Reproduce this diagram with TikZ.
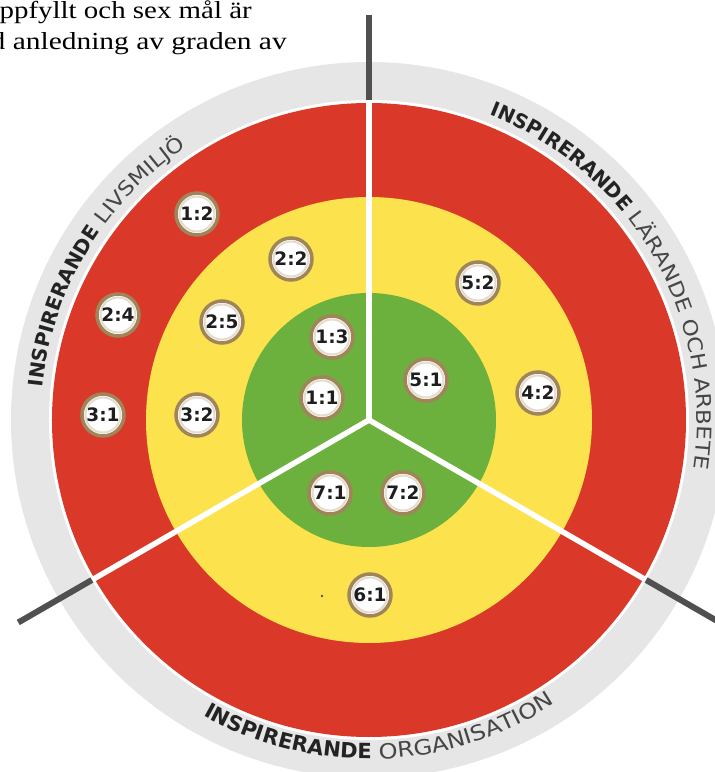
\documentclass[tikz,border=0pt]{standalone}
\usepackage{graphicx}
\usepackage{fontspec}
\usetikzlibrary{decorations.text}
\newfontfamily\dvsans{DejaVu Sans}
\newfontfamily\dvwide[FakeStretch=1.15]{DejaVu Sans}
\newfontfamily\bodyserif{Liberation Serif}
\definecolor{ringgray}{RGB}{230,230,230}
\definecolor{ringred}{RGB}{218,56,40}
\definecolor{ringyellow}{RGB}{252,227,77}
\definecolor{ringgreen}{RGB}{108,176,62}
\definecolor{darkline}{RGB}{80,80,80}
\definecolor{mkbrown}{RGB}{160,133,90}
\definecolor{mkinner}{RGB}{228,220,205}
\definecolor{mktext}{RGB}{30,30,30}
\definecolor{lbltxt}{RGB}{35,35,35}
\definecolor{lbltxtl}{RGB}{70,70,70}
\newcommand\lblbold{\fontsize{20}{20}\selectfont\dvsans\bfseries\color{lbltxt}}
\newcommand\lbllight{\fontsize{20}{20}\selectfont\dvwide\color{lbltxtl}}
\newcommand\lblboldb{\fontsize{21}{21}\selectfont\dvsans\bfseries\color{lbltxt}}
\newcommand\lbllightb{\fontsize{21}{21}\selectfont\dvwide\color{lbltxtl}}
\tikzset{
  mk/.style={circle, fill=white, draw=mkbrown, line width=3.5pt, minimum size=42pt, inner sep=0pt,
    font=\fontsize{18.5}{18.5}\selectfont\dvsans\bfseries, text=mktext,
    path picture={\draw[mkinner, line width=2pt] (path picture bounding box.center) circle[radius=17.5pt];}},
  divwhite/.style={white, line width=5.5pt},
  divdark/.style={darkline, line width=6pt},
  bodytext/.style={anchor=base west, inner sep=0pt, font=\fontsize{24.5}{24.5}\selectfont\bodyserif}
}
\begin{document}
\begin{tikzpicture}[x=1pt,y=1pt]
\useasboundingbox (-369,-352) rectangle (346,420);
\clip (-369,-352) rectangle (346,420);
% rings
\fill[ringgray] (0,0) circle[radius=358];
\fill[white] (0,0) circle[radius=320];
\fill[ringred] (0,0) circle[radius=317];
\fill[ringyellow] (0,0) circle[radius=223];
\fill[ringgreen] (0,0) circle[radius=127];
% dividers
\coordinate (c) at (0,0);
\foreach \a in {90,210,330}{
  \draw[divwhite] (c) -- (\a:321);
  \draw[divdark] (\a:320) -- (\a:405);
}
% ring labels
\path[decorate, decoration={text along path, text align=center,
  text={|\lblbold|INSPIRERANDE |\lbllight|LIVSMILJÖ}}]
  (209:328) arc[start angle=209, end angle=89, radius=328];
\path[decorate, decoration={text along path, text align=center,
  text={|\lblbold|INSPIRERANDE |\lbllight|LÄRANDE OCH ARBETE}}]
  (100:328) arc[start angle=100, end angle=-40, radius=328];
\path[decorate, decoration={text along path, text align=center,
  text={|\lblboldb|INSPIRERANDE |\lbllightb|ORGANISATION}}]
  (212:339) arc[start angle=212, end angle=332, radius=339];
% small dot
\fill[darkline] (-47,-176) circle[radius=1.3];
% markers
\node[mk] (m12) at (-172,206) {1:2};
\node[mk] (m22) at (-78,161) {2:2};
\node[mk] (m24) at (-251,105) {2:4};
\node[mk] (m25) at (-147,98) {2:5};
\node[mk] (m31) at (-266,5) {3:1};
\node[mk] (m32) at (-172,5) {3:2};
\node[mk] (m13) at (-37,83) {1:3};
\node[mk] (m11) at (-47,22) {1:1};
\node[mk] (m52) at (109,137) {5:2};
\node[mk] (m51) at (57,40) {5:1};
\node[mk] (m42) at (169,27) {4:2};
\node[mk] (m71) at (-39,-73) {7:1};
\node[mk] (m72) at (34,-73) {7:2};
\node[mk] (m61) at (1,-175) {6:1};
% clipped body text
\node[bodytext] (t1) at (-369.5,401.5) {\resizebox{252pt}{\height}{ppfyllt och sex mål är}};
\node[bodytext] (t2) at (-378.5,370.5) {\resizebox{296pt}{\height}{d anledning av graden av}};
\end{tikzpicture}
\end{document}
